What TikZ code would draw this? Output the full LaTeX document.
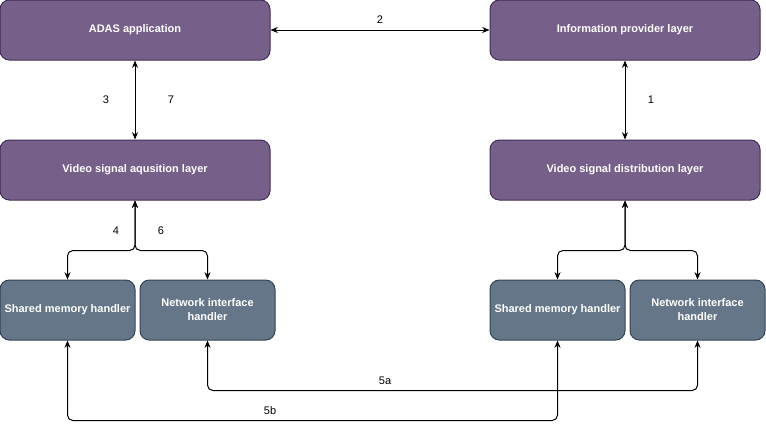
\documentclass[tikz,border=0pt]{standalone}
\usepackage{fontspec}
\setmainfont{Liberation Sans}
\usetikzlibrary{arrows.meta}

\definecolor{layerfill}{HTML}{76608A}
\definecolor{layerline}{HTML}{432D57}
\definecolor{handfill}{HTML}{647687}
\definecolor{handline}{HTML}{314354}

\tikzset{
  layer/.style={draw=layerline, fill=layerfill, text=white, rounded corners=7pt,
    minimum width=202.5pt, minimum height=45pt, inner sep=0pt, line width=0.75pt, font=\fontsize{8.25}{10.5}\selectfont\bfseries},
  handler/.style={draw=handline, fill=handfill, text=white, rounded corners=7pt, align=center,
    minimum width=101.25pt, minimum height=45pt, inner sep=0pt, line width=0.75pt, font=\fontsize{8.25}{10.5}\selectfont\bfseries},
  link/.style={{Stealth[length=5.5pt,width=4.5pt]}-{Stealth[length=5.5pt,width=4.5pt]}, line width=0.75pt, rounded corners=4pt},
  lbl/.style={font=\fontsize{8.25}{10}\selectfont, inner sep=0pt}
}

\begin{document}
\begin{tikzpicture}[x=0.75pt,y=-0.75pt]
    \useasboundingbox (0,0) rectangle (766,430);
    % layers
    \node[layer] (adas) at (135,30) {ADAS application};
    \node[layer] (info) at (625,30) {Information provider layer};
    \node[layer] (acq) at (135,170) {Video signal aqusition layer};
    \node[layer] (dist) at (625,170) {Video signal distribution layer};
    % handlers
    \node[handler] (shmL) at (67.5,310) {Shared memory handler};
    \node[handler] (netL) at (207.5,310) {Network interface\\handler};
    \node[handler] (shmR) at (557.5,310) {Shared memory handler};
    \node[handler] (netR) at (697.5,310) {Network interface\\handler};
    % connectors
    \draw[link] (adas) -- (info);
    \draw[link] (adas) -- (acq);
    \draw[link] (info) -- (dist);
    \draw[link] (acq.south) -- ++(0,50) -| (shmL.north);
    \draw[link] (acq.south) -- ++(0,50) -| (netL.north);
    \draw[link] (dist.south) -- ++(0,50) -| (shmR.north);
    \draw[link] (dist.south) -- ++(0,50) -| (netR.north);
    \draw[link] (netL.south) -- ++(0,50) -| (netR.south);
    \draw[link] (shmL.south) -- ++(0,80) -| (shmR.south);
    % labels
    \node[lbl] (l1) at (651,100) {1};
    \node[lbl] (l2) at (380,20) {2};
    \node[lbl] (l3) at (106,100) {3};
    \node[lbl] (l7) at (171,100) {7};
    \node[lbl] (l4) at (116,231) {4};
    \node[lbl] (l6) at (161,231) {6};
    \node[lbl] (l5a) at (385,381) {5a};
    \node[lbl] (l5b) at (270,411) {5b};
\end{tikzpicture}
\end{document}
